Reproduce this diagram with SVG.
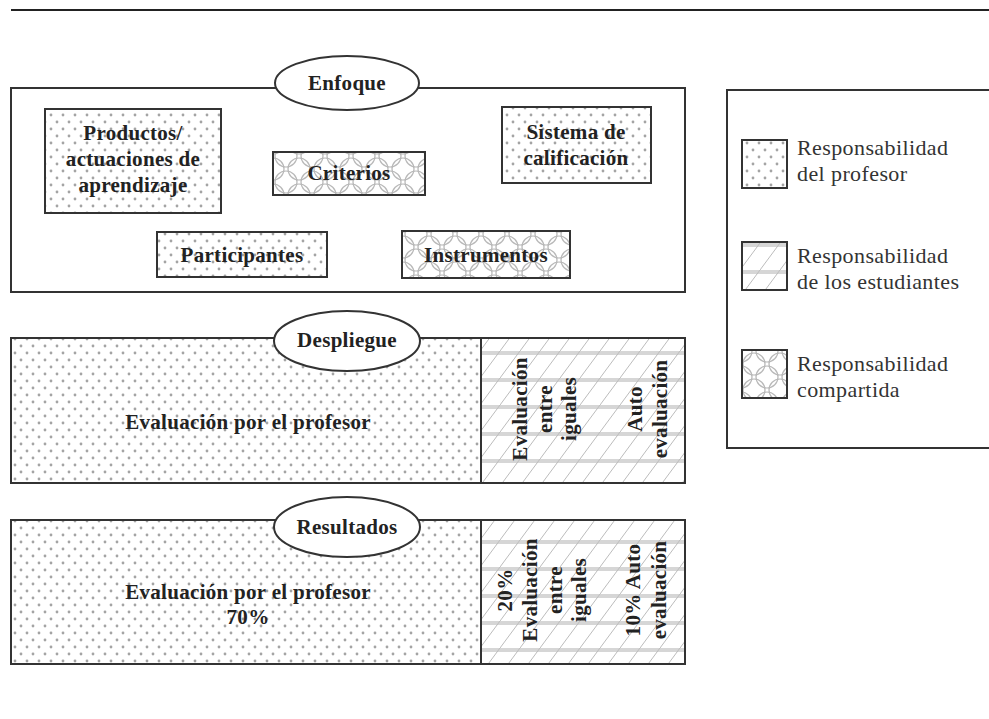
<svg xmlns="http://www.w3.org/2000/svg" width="989" height="719" viewBox="0 0 989 719">
  <defs>
    <!-- teacher: staggered grey dots -->
    <pattern id="pDots" width="12" height="14" patternUnits="userSpaceOnUse">
      <rect width="12" height="14" fill="#fff"/>
      <circle cx="3" cy="3" r="1.4" fill="#a4a4a4"/>
      <circle cx="9" cy="10" r="1.4" fill="#a4a4a4"/>
    </pattern>
    <!-- students: diagonal hatch with horizontal bands -->
    <pattern id="pHatch" width="20" height="27" patternUnits="userSpaceOnUse">
      <rect width="20" height="27" fill="#fff"/>
      <rect y="0" width="20" height="4" fill="#d6d6d6"/>
      <path d="M0 27 L20 0" stroke="#bcbcbc" stroke-width="1"/>
    </pattern>
    <!-- shared: overlapping circle lattice -->
    <pattern id="pLattice" width="26" height="26" patternUnits="userSpaceOnUse">
      <rect width="26" height="26" fill="#fff"/>
      <g fill="none" stroke="#b8b8b8" stroke-width="1.2">
        <circle cx="13" cy="13" r="11"/>
        <circle cx="0" cy="0" r="11"/>
        <circle cx="26" cy="0" r="11"/>
        <circle cx="0" cy="26" r="11"/>
        <circle cx="26" cy="26" r="11"/>
      </g>
    </pattern>
  </defs>
  <style>
    .frame { fill: #fff; stroke: #333; stroke-width: 2; }
    .dots { fill: url(#pDots); stroke: #333; stroke-width: 2; }
    .hatch { fill: url(#pHatch); stroke: #333; stroke-width: 2; }
    .lattice { fill: url(#pLattice); stroke: #333; stroke-width: 2; }
    .oval { fill: #fff; stroke: #333; stroke-width: 2; }
    .b { font-family: "Liberation Serif", "DejaVu Serif", serif; font-weight: bold; font-size: 21px; fill: #222; text-anchor: middle; letter-spacing: 0.3px; }
    .leg { font-family: "Liberation Serif", "DejaVu Serif", serif; font-size: 22px; fill: #333; letter-spacing: 0.4px; }
  </style>

  <rect width="989" height="719" fill="#fff"/>
  <line x1="11" y1="10" x2="989" y2="10" stroke="#222" stroke-width="2"/>

  <!-- Enfoque panel -->
  <g id="enfoque">
    <rect class="frame" x="11" y="88" width="674" height="204"/>
    <ellipse class="oval" cx="347" cy="83" rx="72" ry="27"/>
    <text class="b" x="347" y="90">Enfoque</text>
  </g>
  <g id="productos">
    <rect class="dots" x="45" y="109" width="176" height="104"/>
    <text class="b" x="133" y="140">Productos/</text>
    <text class="b" x="133" y="166">actuaciones de</text>
    <text class="b" x="133" y="192">aprendizaje</text>
  </g>
  <g id="criterios">
    <rect class="lattice" x="273" y="152" width="152" height="43"/>
    <text class="b" x="349" y="180">Criterios</text>
  </g>
  <g id="sistema">
    <rect class="dots" x="502" y="107" width="149" height="76"/>
    <text class="b" x="576" y="139">Sistema de</text>
    <text class="b" x="576" y="165">calificación</text>
  </g>
  <g id="participantes">
    <rect class="dots" x="157" y="232" width="170" height="45"/>
    <text class="b" x="242" y="262">Participantes</text>
  </g>
  <g id="instrumentos">
    <rect class="lattice" x="402" y="231" width="168" height="47"/>
    <text class="b" x="486" y="262">Instrumentos</text>
  </g>

  <!-- Despliegue panel -->
  <g id="despliegue">
    <rect class="dots" x="11" y="338" width="470" height="145"/>
    <rect class="hatch" x="481" y="338" width="204" height="145"/>
    <ellipse class="oval" cx="347" cy="341" rx="73" ry="30"/>
    <text class="b" x="347" y="347">Despliegue</text>
    <text class="b" x="248" y="429">Evaluación por el profesor</text>
    <g transform="translate(545 409) rotate(-90)">
      <text class="b" x="0" y="-18">Evaluación</text>
      <text class="b" x="0" y="7">entre</text>
      <text class="b" x="0" y="31">iguales</text>
    </g>
    <g transform="translate(648 409) rotate(-90)">
      <text class="b" x="0" y="-6">Auto</text>
      <text class="b" x="0" y="19">evaluación</text>
    </g>
  </g>

  <!-- Resultados panel -->
  <g id="resultados">
    <rect class="dots" x="11" y="520" width="470" height="144"/>
    <rect class="hatch" x="481" y="520" width="204" height="144"/>
    <ellipse class="oval" cx="347" cy="527" rx="73" ry="30"/>
    <text class="b" x="347" y="534">Resultados</text>
    <text class="b" x="248" y="599">Evaluación por el profesor</text>
    <text class="b" x="248" y="624">70%</text>
    <g transform="translate(543 590) rotate(-90)">
      <text class="b" x="0" y="-31">20%</text>
      <text class="b" x="0" y="-6">Evaluación</text>
      <text class="b" x="0" y="19">entre</text>
      <text class="b" x="0" y="43">iguales</text>
    </g>
    <g transform="translate(647 590) rotate(-90)">
      <text class="b" x="0" y="-7">10% Auto</text>
      <text class="b" x="0" y="19">evaluación</text>
    </g>
  </g>

  <!-- Legend -->
  <g id="leyenda">
    <rect class="frame" x="727" y="90" width="270" height="358"/>
    <rect class="dots" x="742" y="140" width="45" height="48"/>
    <text class="leg" x="797" y="155">Responsabilidad</text>
    <text class="leg" x="797" y="181">del profesor</text>
    <rect class="hatch" x="742" y="242" width="45" height="48"/>
    <text class="leg" x="797" y="263">Responsabilidad</text>
    <text class="leg" x="797" y="289">de los estudiantes</text>
    <rect class="lattice" x="742" y="350" width="45" height="48"/>
    <text class="leg" x="797" y="371">Responsabilidad</text>
    <text class="leg" x="797" y="397">compartida</text>
  </g>
</svg>
